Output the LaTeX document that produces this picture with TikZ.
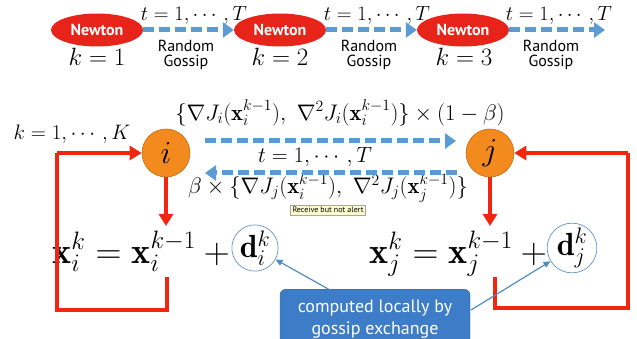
\RequirePackage{fix-cm}
\documentclass[tikz,border=0pt]{standalone}
\usepackage{amsmath}
\usepackage{fontspec}
\setsansfont{PT Sans}
\usetikzlibrary{arrows.meta,shapes.geometric}
\definecolor{gblue}{HTML}{5B9BD5}
\definecolor{rred}{HTML}{F0260E}
\definecolor{nred}{HTML}{E8231A}
\definecolor{orng}{HTML}{F28A1E}
\definecolor{boxblue}{HTML}{3D7DC8}
\begin{document}
\begin{tikzpicture}[x=1pt,y=-1pt,
  newton/.style={ellipse,fill=nred,minimum width=92pt,minimum height=33pt,inner sep=0pt,text=white,font=\sffamily\bfseries\fontsize{16}{18}\selectfont},
  gossip/.style={draw=gblue,line width=5pt,dash pattern=on 11pt off 5pt,-{Triangle[length=11pt,width=15pt]}},
  redarr/.style={draw=rred,line width=4pt,-{Triangle[length=12pt,width=14pt]}},
  redline/.style={draw=rred,line width=4pt},
  agent/.style={circle,fill=orng,draw=orng!80!black,line width=0.6pt,minimum size=48pt,inner sep=0pt,font=\fontsize{32}{36}\selectfont},
  lbl/.style={font=\sffamily\fontsize{16}{16}\selectfont,align=center,inner sep=0pt},
  mth/.style={font=\fontsize{20.5}{24}\selectfont,inner sep=0pt},
  midmth/.style={font=\fontsize{22.5}{26}\selectfont,inner sep=0pt},
  kmth/.style={font=\fontsize{25}{30}\selectfont,inner sep=0pt},
  eq/.style={font=\fontsize{36}{40}\selectfont,inner sep=0pt},
  dcirc/.style={circle,draw=gblue!80!gray,line width=0.7pt,minimum size=46pt,inner sep=0pt,font=\fontsize{32}{36}\selectfont},
  thinarr/.style={draw=gblue!90!black,line width=1.2pt,-{Triangle[length=7pt,width=6pt]}}
]
\useasboundingbox (0,0) rectangle (637,339);
% top row
\node[newton] (n1) at (97,30) {Newton};
\node[newton] (n2) at (280,30) {Newton};
\node[newton] (n3) at (463,30) {Newton};
\coordinate (e3) at (605,30);
\draw[gossip] (n1.east) -- (n2.west);
\draw[gossip] (n2.east) -- (n3.west);
\draw[gossip] (n3.east) -- (e3);
\node[mth] (t1) at (194,15) {$t=1,\cdots,T$};
\node[mth] (t2) at (377,15) {$t=1,\cdots,T$};
\node[mth] (t3) at (559,15) {$t=1,\cdots,T$};
\node[lbl] (g1) at (186,55) {Random\\[-1pt]Gossip};
\node[lbl] (g2) at (369,55) {Random\\[-1pt]Gossip};
\node[lbl] (g3) at (551,55) {Random\\[-1pt]Gossip};
\node[kmth] (k1) at (97,57) {$k=1$};
\node[kmth] (k2) at (280,57) {$k=2$};
\node[kmth] (k3) at (464,57) {$k=3$};
% agents
\node[agent] (i) at (166,153) {$i$};
\node[agent] (j) at (490,153) {$j$};
\node[font=\fontsize{21}{24}\selectfont,inner sep=0pt] (kK) at (72,134) {$k=1,\cdots,K$};
\node[midmth] (top) at (340,113) {$\{\nabla J_i(\mathbf{x}_i^{k-1}),\ \nabla^2 J_i(\mathbf{x}_i^{k-1})\}\times(1-\beta)$};
\node[font=\fontsize{22}{24}\selectfont,inner sep=0pt] (tm) at (315,157) {$t=1,\cdots,T$};
\node[midmth] (bot) at (328,188) {$\beta\times\{\nabla J_j(\mathbf{x}_i^{k-1}),\ \nabla^2 J_j(\mathbf{x}_j^{k-1})\}$};
\coordinate (ra) at (205,141);
\coordinate (rb) at (456,141);
\coordinate (la) at (457,173);
\coordinate (lb) at (205,173);
\draw[gossip] (ra) -- (rb);
\draw[gossip] (la) -- (lb);
% tooltip
\node[draw=gray!70,fill=yellow!20,font=\sffamily\fontsize{8}{9}\selectfont,inner sep=2pt] (tip) at (328,210) {Receive but not alert};
% equations
\node[eq,anchor=base east] (eqi) at (238,263) {$\mathbf{x}_i^k=\mathbf{x}_i^{k-1}+{}$};
\node[eq,anchor=base east] (eqj) at (555,263) {$\mathbf{x}_j^k=\mathbf{x}_j^{k-1}+{}$};
\node[dcirc] (di) at (255,248) {$\mathbf{d}_i^k$};
\node[dcirc] (dj) at (572,248) {$\mathbf{d}_j^k$};
% red arrows
\coordinate (ai) at (166,226);
\coordinate (aj) at (490,226);
\draw[redarr] (i.south) -- (ai);
\draw[redarr] (j.south) -- (aj);
\coordinate (li0) at (167,277);
\coordinate (li1) at (167,310);
\coordinate (li2) at (57,310);
\coordinate (li3) at (57,153);
\draw[redline] (li0) -- (li1) -- (li2) -- (li3);
\draw[redarr] (li3) -- (i.west);
\coordinate (rj0) at (495,277);
\coordinate (rj1) at (495,308);
\coordinate (rj2) at (628,308);
\coordinate (rj3) at (628,153);
\draw[redline] (rj0) -- (rj1) -- (rj2) -- (rj3);
\draw[redarr] (rj3) -- (j.east);
% blue box
\node[rounded corners=6pt,fill=boxblue,draw=boxblue!80!black,text=white,font=\sffamily\fontsize{18}{22}\selectfont,align=center,minimum width=190pt,minimum height=60pt,inner sep=2pt,anchor=north] (box) at (375,289) {computed locally by\\gossip exchange};
\coordinate (bi) at (330,290);
\coordinate (bj) at (471,310);
\draw[thinarr] (bi) -- (di);
\draw[thinarr] (bj) -- (dj);
\end{tikzpicture}
\end{document}
